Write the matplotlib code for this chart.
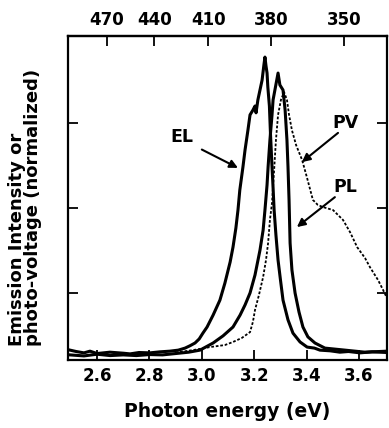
import matplotlib
matplotlib.use("Agg")
import matplotlib.pyplot as plt
import numpy as np

# ---- data (photon energy in eV, normalized signal) ----
el_energy = [2.497, 2.52, 2.55, 2.573, 2.60, 2.649, 2.70, 2.726, 2.76, 2.802, 2.84, 2.878, 2.91,
             2.936, 2.955, 2.974, 2.99, 3.004, 3.02, 3.043, 3.069, 3.088, 3.108, 3.119, 3.130,
             3.138, 3.145, 3.157, 3.165, 3.176, 3.184, 3.195, 3.203, 3.207, 3.214, 3.222, 3.230,
             3.237, 3.241, 3.245, 3.249, 3.252, 3.258, 3.262, 3.268, 3.272, 3.276, 3.283, 3.291,
             3.300, 3.310, 3.329, 3.348, 3.375, 3.402, 3.43, 3.451, 3.49, 3.527, 3.56, 3.604,
             3.65, 3.707]
el_signal = [0.082, 0.078, 0.074, 0.079, 0.072, 0.076, 0.073, 0.071, 0.075, 0.074, 0.077, 0.079, 0.082,
             0.088, 0.095, 0.103, 0.115, 0.132, 0.150, 0.185, 0.229, 0.279, 0.341, 0.385, 0.441,
             0.494, 0.553, 0.621, 0.671, 0.729, 0.774, 0.788, 0.800, 0.780, 0.818, 0.847, 0.876,
             0.921, 0.944, 0.918, 0.897, 0.856, 0.800, 0.720, 0.621, 0.560, 0.494, 0.420, 0.347,
             0.290, 0.229, 0.171, 0.132, 0.106, 0.091, 0.088, 0.082, 0.080, 0.076, 0.078, 0.074,
             0.077, 0.075]

pl_energy = [2.497, 2.55, 2.60, 2.65, 2.70, 2.75, 2.80, 2.85, 2.90, 2.95, 2.993, 3.043, 3.081,
             3.119, 3.146, 3.165, 3.184, 3.203, 3.222, 3.234, 3.241, 3.249, 3.253, 3.260, 3.268,
             3.272, 3.279, 3.291, 3.298, 3.310, 3.318, 3.325, 3.329, 3.333, 3.337, 3.344, 3.356,
             3.371, 3.386, 3.405, 3.432, 3.470, 3.547, 3.623, 3.707]
pl_signal = [0.068, 0.065, 0.070, 0.066, 0.068, 0.066, 0.069, 0.068, 0.072, 0.076, 0.082, 0.103, 0.124,
             0.150, 0.185, 0.215, 0.250, 0.303, 0.376, 0.435, 0.494, 0.568, 0.621, 0.700, 0.774,
             0.818, 0.847, 0.897, 0.862, 0.847, 0.788, 0.700, 0.621, 0.524, 0.397, 0.318, 0.250,
             0.194, 0.150, 0.121, 0.103, 0.088, 0.082, 0.076, 0.079]

pv_energy = [2.90, 2.966, 3.031, 3.088, 3.119, 3.153, 3.184, 3.195, 3.203, 3.218, 3.234, 3.245,
             3.253, 3.260, 3.268, 3.276, 3.283, 3.291, 3.302, 3.314, 3.325, 3.333, 3.344, 3.360,
             3.383, 3.402, 3.424, 3.443, 3.462, 3.501, 3.539, 3.566, 3.593, 3.623, 3.642, 3.673,
             3.692, 3.707]
pv_signal = [0.075, 0.082, 0.091, 0.097, 0.106, 0.118, 0.135, 0.165, 0.200, 0.244, 0.297, 0.347,
             0.397, 0.465, 0.515, 0.612, 0.700, 0.774, 0.818, 0.841, 0.818, 0.774, 0.729, 0.685,
             0.641, 0.588, 0.524, 0.509, 0.503, 0.494, 0.465, 0.429, 0.385, 0.353, 0.326, 0.288,
             0.259, 0.235]

x_ticks = [2.6, 2.8, 3.0, 3.2, 3.4, 3.6]
x_ticklabels = ["2.6", "2.8", "3.0", "3.2", "3.4", "3.6"]
wl_ticks = [470, 440, 410, 380, 350]
y_ticks = [0.25, 0.5, 0.75]

# ---- figure ----
fig = plt.figure(figsize=(3.89, 4.28), dpi=100)
ax = fig.add_axes([68/389, 1-360/428, (387-68)/389, (360-36)/428])

ax.plot(el_energy, el_signal, color="black", lw=2.2)
ax.plot(pl_energy, pl_signal, color="black", lw=2.2)
ax.plot(pv_energy, pv_signal, color="black", lw=1.3, ls=(0, (1.5, 1)))

ax.set_xlim(2.489, 3.707)
ax.set_ylim(0.053, 1.006)
ax.set_xticks(x_ticks)
ax.set_xticklabels(x_ticklabels, fontsize=12, fontweight="bold")
ax.set_yticks(y_ticks)
ax.set_yticklabels([])
ax.tick_params(axis="both", direction="in", length=7, width=1.3, right=True, top=False, pad=5)
for s in ax.spines.values():
    s.set_linewidth(1.6)

sec = ax.secondary_xaxis("top", functions=(lambda e: 1240.0 / np.asarray(e, float),
                                             lambda w: 1240.0 / np.asarray(w, float)))
sec.set_xticks(wl_ticks)
sec.set_xticklabels([str(w) for w in wl_ticks], fontsize=12, fontweight="bold")
sec.tick_params(direction="in", length=7, width=1.3, pad=5)
sec.spines["top"].set_linewidth(1.6)

ax.set_xlabel("Photon energy (eV)", fontsize=13.5, fontweight="bold", labelpad=12)

fig.text(25/389, 1-346/428, "Emission Intensity or\nphoto-voltage (normalized)",
         rotation=90, fontsize=13, fontweight="bold", ha="center", va="bottom",
         multialignment="left", linespacing=0.92)

arrow = dict(arrowstyle="-|>", lw=1.5, color="black", mutation_scale=12, shrinkA=0, shrinkB=0)
ax.text(2.924, 0.709, "EL", fontsize=12.5, fontweight="bold", ha="center", va="center")
ax.annotate("", xy=(3.138, 0.618), xytext=(3.0, 0.672), arrowprops=arrow)
ax.text(3.547, 0.75, "PV", fontsize=12.5, fontweight="bold", ha="center", va="center")
ax.annotate("", xy=(3.382, 0.635), xytext=(3.52, 0.721), arrowprops=arrow)
ax.text(3.547, 0.562, "PL", fontsize=12.5, fontweight="bold", ha="center", va="center")
ax.annotate("", xy=(3.363, 0.444), xytext=(3.508, 0.532), arrowprops=arrow)

fig.savefig("out.png", dpi=100)
